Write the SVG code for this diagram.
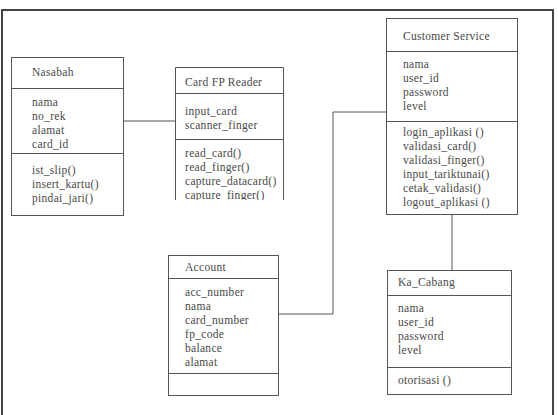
<svg xmlns="http://www.w3.org/2000/svg" width="558" height="415" viewBox="0 0 558 415">
<style>
.box{fill:#fff;stroke:#555;stroke-width:1}
.ln{stroke:#555;stroke-width:1;fill:none}
text{font-family:"Liberation Serif","Times New Roman",serif;font-size:11.5px;fill:#484848;letter-spacing:0.3px}
</style>
<defs><clipPath id="cpCard"><rect x="170" y="60" width="120" height="140"/></clipPath></defs>
<rect x="0" y="0" width="558" height="415" fill="#fff"/>
<rect x="2" y="10" width="551" height="420" fill="none" stroke="#444" stroke-width="2"/>
<g id="connectors">
<line class="ln" x1="124" y1="121" x2="175" y2="121"/>
<polyline class="ln" points="279,314 333,314 333,112 386,112"/>
<line class="ln" x1="452" y1="215" x2="452" y2="270"/>
</g>
<g id="nasabah">
<rect class="box" x="11.5" y="57.5" width="112" height="158"/>
<line class="ln" x1="11.5" y1="88.5" x2="123.5" y2="88.5"/>
<line class="ln" x1="11.5" y1="153.5" x2="123.5" y2="153.5"/>
<text x="32" y="76">Nasabah</text>
<text x="32" y="106">nama</text>
<text x="32" y="120">no_rek</text>
<text x="32" y="134">alamat</text>
<text x="32" y="148">card_id</text>
<text x="32" y="174">ist_slip()</text>
<text x="32" y="188">insert_kartu()</text>
<text x="32" y="202">pindai_jari()</text>
</g>
<g id="card-fp-reader">
<path class="ln" d="M175.5,200 V67.5 H283.5 V200" fill="#fff"/>
<line class="ln" x1="175.5" y1="93.5" x2="283.5" y2="93.5"/>
<line class="ln" x1="175.5" y1="139.5" x2="283.5" y2="139.5"/>
<text x="185" y="86">Card FP Reader</text>
<text x="185" y="115">input_card</text>
<text x="185" y="129">scanner_finger</text>
<g clip-path="url(#cpCard)">
<text x="185" y="157">read_card()</text>
<text x="185" y="171">read_finger()</text>
<text x="185" y="185">capture_datacard()</text>
<text x="185" y="199">capture_finger()</text>
</g>
</g>
<g id="customer-service">
<rect class="box" x="386.5" y="18.5" width="131" height="196"/>
<line class="ln" x1="386.5" y1="51.5" x2="517.5" y2="51.5"/>
<line class="ln" x1="386.5" y1="121.5" x2="517.5" y2="121.5"/>
<text x="403" y="40">Customer Service</text>
<text x="403" y="68">nama</text>
<text x="403" y="82">user_id</text>
<text x="403" y="96">password</text>
<text x="403" y="110">level</text>
<text x="403" y="136">login_aplikasi ()</text>
<text x="403" y="150">validasi_card()</text>
<text x="403" y="164">validasi_finger()</text>
<text x="403" y="178">input_tariktunai()</text>
<text x="403" y="192">cetak_validasi()</text>
<text x="403" y="206">logout_aplikasi ()</text>
</g>
<g id="account">
<rect class="box" x="168.5" y="255.5" width="110" height="140"/>
<line class="ln" x1="168.5" y1="278.5" x2="278.5" y2="278.5"/>
<line class="ln" x1="168.5" y1="373.5" x2="278.5" y2="373.5"/>
<text x="185" y="271">Account</text>
<text x="185" y="296">acc_number</text>
<text x="185" y="310">nama</text>
<text x="185" y="324">card_number</text>
<text x="185" y="338">fp_code</text>
<text x="185" y="352">balance</text>
<text x="185" y="366">alamat</text>
</g>
<g id="ka-cabang">
<rect class="box" x="387.5" y="270.5" width="124" height="124"/>
<line class="ln" x1="387.5" y1="295.5" x2="511.5" y2="295.5"/>
<line class="ln" x1="387.5" y1="367.5" x2="511.5" y2="367.5"/>
<text x="398" y="286">Ka_Cabang</text>
<text x="398" y="312">nama</text>
<text x="398" y="326">user_id</text>
<text x="398" y="340">password</text>
<text x="398" y="354">level</text>
<text x="398" y="384">otorisasi ()</text>
</g>
</svg>
